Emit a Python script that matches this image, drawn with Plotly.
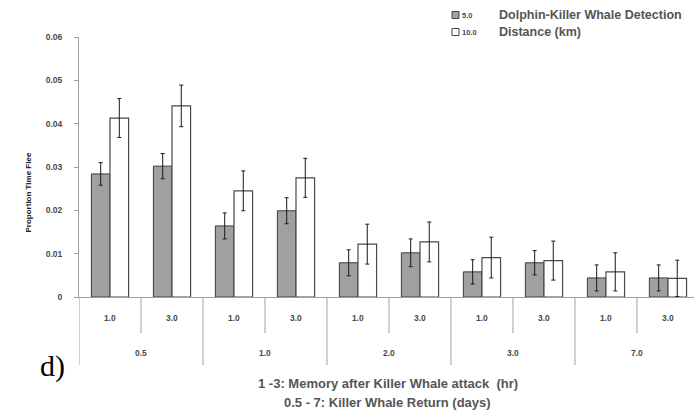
import plotly.graph_objects as go

# Killer whale return interval (days) and memory after attack (hr)
returns = ["0.5", "1.0", "2.0", "3.0", "7.0"]
memory = ["1.0", "3.0"]

# Dolphin-killer whale detection distance series (km)
series_names = ["5.0", "10.0"]
flee_5km = [0.0284, 0.0302, 0.0164, 0.0199, 0.0079, 0.0102, 0.0058, 0.0079, 0.0044, 0.0044]
err_5km = [0.0026, 0.0029, 0.0030, 0.0030, 0.0030, 0.0032, 0.0028, 0.0028, 0.0030, 0.0030]
flee_10km = [0.0413, 0.0441, 0.0245, 0.0275, 0.0122, 0.0127, 0.0091, 0.0084, 0.0058, 0.0043]
err_10km = [0.0045, 0.0048, 0.0046, 0.0045, 0.0046, 0.0046, 0.0047, 0.0045, 0.0044, 0.0042]

y_ticks = [0, 0.01, 0.02, 0.03, 0.04, 0.05, 0.06]
y_tick_text = ["0", "0.01", "0.02", "0.03", "0.04", "0.05", "0.06"]

legend_title = ["Dolphin-Killer Whale Detection", "Distance (km)"]
x_title = ["1 -3: Memory after Killer Whale attack  (hr)", "0.5 - 7: Killer Whale Return (days)"]
y_title = "Proportion Time Flee"
panel_tag = "d)"

FONT = "Liberation Sans"
TXT = "#4a4a4a"
TITLE_TXT = "#555555"
AXIS = "#a0a0a0"

n = len(returns) * len(memory)
pos = list(range(n))

fig = go.Figure()
fig.add_trace(go.Bar(
    x=pos, y=flee_5km, name=series_names[0],
    marker=dict(color="#a0a0a0", line=dict(color="#3c3c3c", width=1)),
    error_y=dict(type="data", array=err_5km, color="#1a1a1a", thickness=1, width=2),
    showlegend=False,
))
fig.add_trace(go.Bar(
    x=pos, y=flee_10km, name=series_names[1],
    marker=dict(color="#ffffff", line=dict(color="#4a4a4a", width=1.2)),
    error_y=dict(type="data", array=err_10km, color="#1a1a1a", thickness=1, width=2),
    showlegend=False,
))

shapes = []
annotations = []

# inner (memory) labels and short dividers between memory levels
for i in range(n):
    annotations.append(dict(
        x=i, y=0, xref="x", yref="paper", yshift=-21, showarrow=False,
        text="<b>" + memory[i % len(memory)] + "</b>",
        font=dict(family=FONT, size=8.5, color=TXT), yanchor="middle",
    ))
for g in range(len(returns)):
    mid = g * len(memory) + 0.5
    shapes.append(dict(type="line", xref="x", yref="paper", ysizemode="pixel", yanchor=0,
                       x0=mid, x1=mid, y0=0, y1=-36, line=dict(color=AXIS, width=1)))
    annotations.append(dict(
        x=mid, y=0, xref="x", yref="paper", yshift=-56, showarrow=False,
        text="<b>" + returns[g] + "</b>", font=dict(family=FONT, size=8.5, color=TXT),
        yanchor="middle",
    ))
    left = g * len(memory) - 0.5
    shapes.append(dict(type="line", xref="x", yref="paper", ysizemode="pixel", yanchor=0,
                       x0=left, x1=left, y0=0, y1=-68, line=dict(color=AXIS, width=1)))

# axis titles
annotations.append(dict(x=0.5, y=0, xref="paper", yref="paper", yshift=-86, showarrow=False,
                        text="<b>" + x_title[0] + "</b>",
                        font=dict(family=FONT, size=13, color=TITLE_TXT),
                        yanchor="middle", xshift=1))
annotations.append(dict(x=0.5, y=0, xref="paper", yref="paper", yshift=-105, showarrow=False,
                        text="<b>" + x_title[1] + "</b>",
                        font=dict(family=FONT, size=13, color=TITLE_TXT),
                        yanchor="middle", xshift=1))
annotations.append(dict(x=0, y=0.024, xref="paper", yref="y", xshift=-58, showarrow=False,
                        text="<b>" + y_title + "</b>", textangle=-90,
                        font=dict(family=FONT, size=8, color="#222222")))
annotations.append(dict(x=0, y=0, xref="paper", yref="paper", xshift=-41, yshift=-88,
                        showarrow=False, text=panel_tag,
                        font=dict(family="Liberation Serif", size=30, color="#000000")))

# legend swatches and labels
leg_rows = [15, 32]
fills = ["#a0a0a0", "#ffffff"]
for k, yy in enumerate(leg_rows):
    shapes.append(dict(type="rect", xref="paper", yref="paper", xsizemode="pixel",
                       ysizemode="pixel", xanchor=0, yanchor=1, x0=452 - 79, x1=459 - 79,
                       y0=37 - yy + 3.5, y1=37 - yy - 3.5,
                       fillcolor=fills[k], line=dict(color="#444444", width=1)))
    annotations.append(dict(x=0, y=1, xref="paper", yref="paper", xshift=460 - 79,
                            yshift=37 - yy, showarrow=False, xanchor="left", yanchor="middle",
                            text="<b>" + series_names[k] + "</b>",
                            font=dict(family=FONT, size=7.5, color=TXT)))
    annotations.append(dict(x=0, y=1, xref="paper", yref="paper", xshift=497 - 79,
                            yshift=37 - yy, showarrow=False, xanchor="left", yanchor="middle",
                            text="<b>" + legend_title[k] + "</b>",
                            font=dict(family=FONT, size=12.5, color=TITLE_TXT)))

fig.update_layout(
    width=694, height=414,
    margin=dict(l=79, r=0, t=37, b=117),
    paper_bgcolor="white", plot_bgcolor="white",
    barmode="group", bargap=0.4, bargroupgap=0,
    shapes=shapes, annotations=annotations,
    xaxis=dict(range=[-0.5, 9.42], showticklabels=False, showgrid=False, zeroline=False,
               showline=True, linecolor=AXIS, linewidth=1, ticks=""),
    yaxis=dict(range=[0, 0.06], tickvals=y_ticks, ticktext=y_tick_text, showgrid=False,
               zeroline=False, showline=True, linecolor=AXIS, linewidth=1,
               ticks="outside", ticklen=4, tickcolor=AXIS, ticklabelstandoff=10,
               tickfont=dict(family=FONT, size=8.5, color=TXT, weight="bold")),
)

fig.write_html("out.html")
